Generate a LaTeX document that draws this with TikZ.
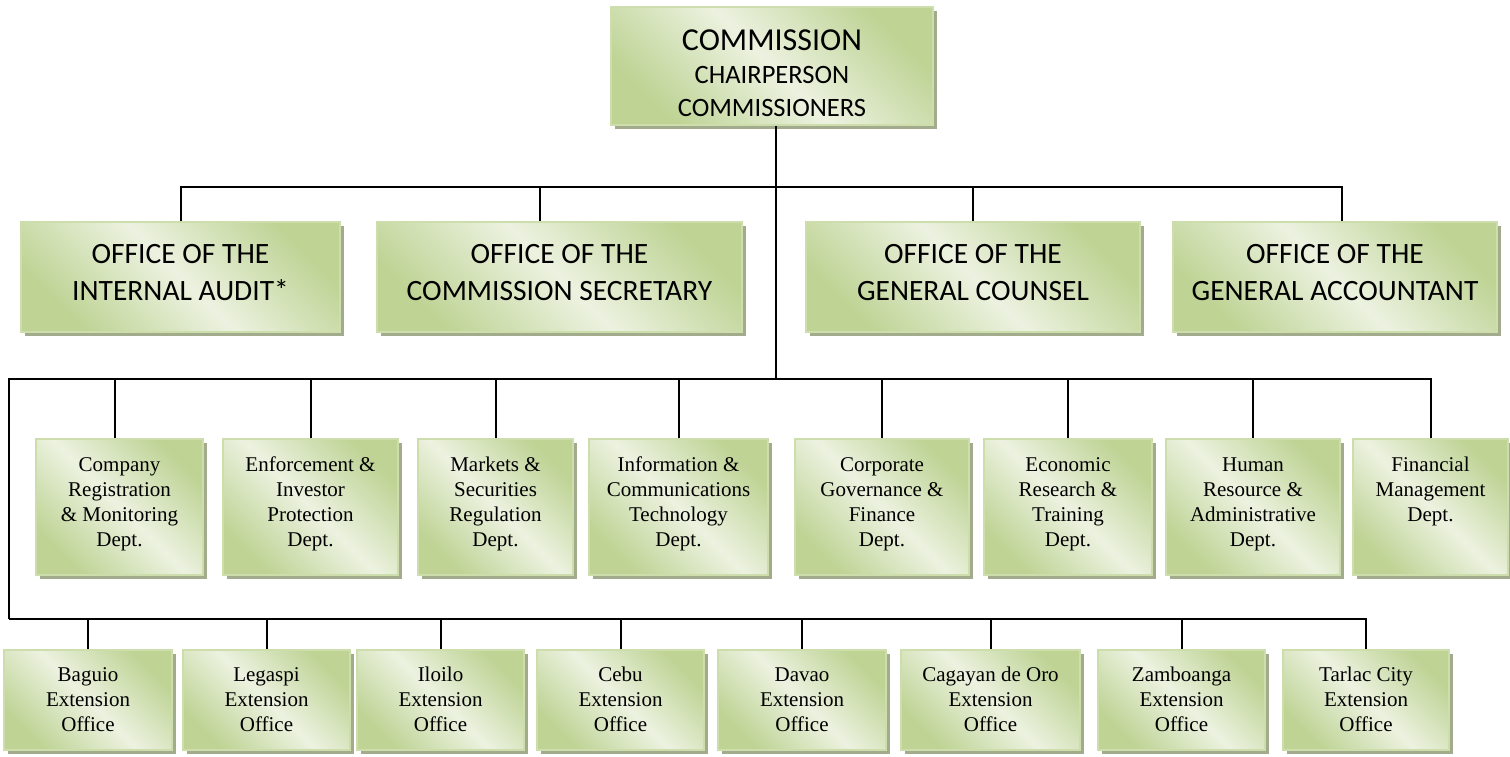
\documentclass[tikz,border=0pt]{standalone}
\usepackage{fontspec}
\setmainfont{Liberation Serif}
\newfontfamily\calfont{Carlito}
\usetikzlibrary{positioning,shadows}
\definecolor{boxdark}{RGB}{190,211,148}
\definecolor{boxlight}{RGB}{236,242,224}
\definecolor{boxedge}{RGB}{205,222,172}
\definecolor{boxshade}{RGB}{163,171,141}
\begin{document}
\begin{tikzpicture}[x=1pt,y=-1pt]
        \tikzstyle{box}=[rectangle,draw=boxedge,line width=1.5pt,top color=boxdark,bottom color=boxdark,middle color=boxlight,shading angle=-45,drop shadow={shadow xshift=4pt,shadow yshift=-4pt,fill=boxshade,opacity=1},inner sep=0pt]
        \tikzstyle{topbox}=[box,minimum width=322pt,minimum height=118pt,align=center,font=\calfont\fontsize{26.5}{33}\selectfont]
        \tikzstyle{office}=[box,minimum height=110pt,align=center,font=\calfont\fontsize{29.5}{37}\selectfont]
        \tikzstyle{dept}=[box,minimum height=136pt]
        \tikzstyle{ext}=[box,minimum height=100pt]
        \tikzstyle{boxtext}=[align=center,inner sep=0pt,font=\fontsize{21}{25}\selectfont]
        \tikzstyle{link}=[draw,line width=2pt]
        \useasboundingbox (0,0) rectangle (1510,756);

        % commission on top
        \node [topbox] (comm) at (772,66) {\rule{0pt}{36pt}{\fontsize{32}{37}\selectfont COMMISSION}\\CHAIRPERSON\\COMMISSIONERS};

        % offices
        \node [office,minimum width=319pt] (o1) at (180.5,277) {OFFICE OF THE\\INTERNAL AUDIT*\rule[-10pt]{0pt}{0pt}};
        \node [office,minimum width=365pt] (o2) at (559.5,277) {OFFICE OF THE\\COMMISSION SECRETARY\rule[-10pt]{0pt}{0pt}};
        \node [office,minimum width=334pt] (o3) at (973,277) {OFFICE OF THE\\GENERAL COUNSEL\rule[-10pt]{0pt}{0pt}};
        \node [office,minimum width=324pt] (o4) at (1335,277) {OFFICE OF THE\\GENERAL ACCOUNTANT\rule[-10pt]{0pt}{0pt}};

        % departments
        \node [dept,minimum width=167pt] (d1) at (119.5,507) {};
        \node [dept,minimum width=175pt] (d2) at (310.5,507) {};
        \node [dept,minimum width=155pt] (d3) at (495.5,507) {};
        \node [dept,minimum width=179pt] (d4) at (678.5,507) {};
        \node [dept,minimum width=174pt] (d5) at (882,507) {};
        \node [dept,minimum width=168pt] (d6) at (1068,507) {};
        \node [dept,minimum width=174pt] (d7) at (1253,507) {};
        \node [dept,minimum width=155pt] (d8) at (1430.5,507) {};
        \node [boxtext,below=16pt of d1.north] (d1t) {\strut Company\\Registration\\\& Monitoring\\Dept.};
        \node [boxtext,below=16pt of d2.north] (d2t) {\strut Enforcement \&\\Investor\\Protection\\Dept.};
        \node [boxtext,below=16pt of d3.north] (d3t) {\strut Markets \&\\Securities\\Regulation\\Dept.};
        \node [boxtext,below=16pt of d4.north] (d4t) {\strut Information \&\\Communications\\Technology\\Dept.};
        \node [boxtext,below=16pt of d5.north] (d5t) {\strut Corporate\\Governance \&\\Finance\\Dept.};
        \node [boxtext,below=16pt of d6.north] (d6t) {\strut Economic\\Research \&\\Training\\Dept.};
        \node [boxtext,below=16pt of d7.north] (d7t) {\strut Human\\Resource \&\\Administrative\\Dept.};
        \node [boxtext,below=16pt of d8.north] (d8t) {\strut Financial\\Management\\Dept.};

        % extension offices
        \node [ext,minimum width=168pt] (e1) at (88,700) {};
        \node [ext,minimum width=167pt] (e2) at (266.5,700) {};
        \node [ext,minimum width=167pt] (e3) at (440.5,700) {};
        \node [ext,minimum width=167pt] (e4) at (620.5,700) {};
        \node [ext,minimum width=168pt] (e5) at (802,700) {};
        \node [ext,minimum width=179pt] (e6) at (990.5,700) {};
        \node [ext,minimum width=167pt] (e7) at (1181.5,700) {};
        \node [ext,minimum width=166pt] (e8) at (1366,700) {};
        \node [boxtext,below=15pt of e1.north] (e1t) {\strut Baguio\\Extension\\Office};
        \node [boxtext,below=15pt of e2.north] (e2t) {\strut Legaspi\\Extension\\Office};
        \node [boxtext,below=15pt of e3.north] (e3t) {\strut Iloilo\\Extension\\Office};
        \node [boxtext,below=15pt of e4.north] (e4t) {\strut Cebu\\Extension\\Office};
        \node [boxtext,below=15pt of e5.north] (e5t) {\strut Davao\\Extension\\Office};
        \node [boxtext,below=15pt of e6.north] (e6t) {\strut Cagayan de Oro\\Extension\\Office};
        \node [boxtext,below=15pt of e7.north] (e7t) {\strut Zamboanga\\Extension\\Office};
        \node [boxtext,below=15pt of e8.north] (e8t) {\strut Tarlac City\\Extension\\Office};

        % lines
        \coordinate (bus1) at (776,187);
        \coordinate (spine) at (776,379);
        \coordinate (bus3) at (9,619);
        \coordinate (o2top) at ([xshift=-19.5pt]o2.north);
        \coordinate (o4top) at ([xshift=7pt]o4.north);
        \coordinate (d1top) at ([xshift=-5pt]d1.north);
        \path[link] (comm.south -| spine) -- (spine);
        \path[link] (o1.north) -- (o1.north |- bus1) -- (o4top |- bus1) -- (o4top);
        \path[link] (o2top |- bus1) -- (o2top);
        \path[link] (o3.north |- bus1) -- (o3.north);
        \path[link] (bus3) -- (bus3 |- spine) -- (d8.north |- spine) -- (d8.north);
        \path[link] (d1top |- spine) -- (d1top);
        \path[link] (d2.north |- spine) -- (d2.north);
        \path[link] (d3.north |- spine) -- (d3.north);
        \path[link] (d4.north |- spine) -- (d4.north);
        \path[link] (d5.north |- spine) -- (d5.north);
        \path[link] (d6.north |- spine) -- (d6.north);
        \path[link] (d7.north |- spine) -- (d7.north);
        \path[link] (bus3) -- (e8.north |- bus3) -- (e8.north);
        \path[link] (e1.north |- bus3) -- (e1.north);
        \path[link] (e2.north |- bus3) -- (e2.north);
        \path[link] (e3.north |- bus3) -- (e3.north);
        \path[link] (e4.north |- bus3) -- (e4.north);
        \path[link] (e5.north |- bus3) -- (e5.north);
        \path[link] (e6.north |- bus3) -- (e6.north);
        \path[link] (e7.north |- bus3) -- (e7.north);
\end{tikzpicture}
\end{document}
